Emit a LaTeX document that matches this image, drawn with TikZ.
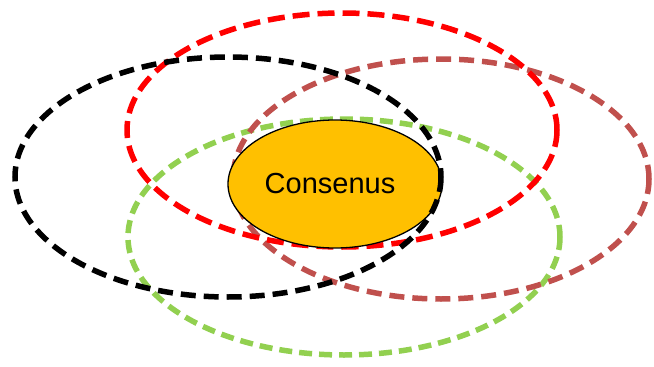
\documentclass[tikz,border=0pt]{standalone}
\usepackage{fontspec}
\setmainfont{Liberation Sans}
\usetikzlibrary{shapes.geometric}
\definecolor{cgreen}{HTML}{92D050}
\definecolor{cbrown}{HTML}{C0504D}
\definecolor{cred}{HTML}{FF0000}
\definecolor{corange}{HTML}{FFC000}
\tikzset{
  ring/.style={line width=5.5pt, dash pattern=on 15pt off 8pt},
  core/.style={fill=corange, draw=black, line width=1.3pt}
}
\begin{document}
\begin{tikzpicture}[x=1pt,y=-1pt]
\useasboundingbox (0,0) rectangle (654,367);
\draw[ring, cgreen, dash pattern=on 13pt off 7pt] (344,237) ellipse [x radius=216, y radius=118];
\draw[ring, cbrown] (441,179) ellipse [x radius=208, y radius=120];
\draw[ring, cred, dash pattern=on 17pt off 8pt] (342,130) ellipse [x radius=215, y radius=117];
\node[core, ellipse, minimum width=214pt, minimum height=128pt, inner sep=0pt] (c) at (335,184) {};
\draw[ring, black, dash pattern=on 15pt off 8pt] (228,177) ellipse [x radius=213, y radius=120];
\node[font=\fontsize{29}{32}\selectfont] (t) at (330,184) {Consenus};
\end{tikzpicture}
\end{document}
